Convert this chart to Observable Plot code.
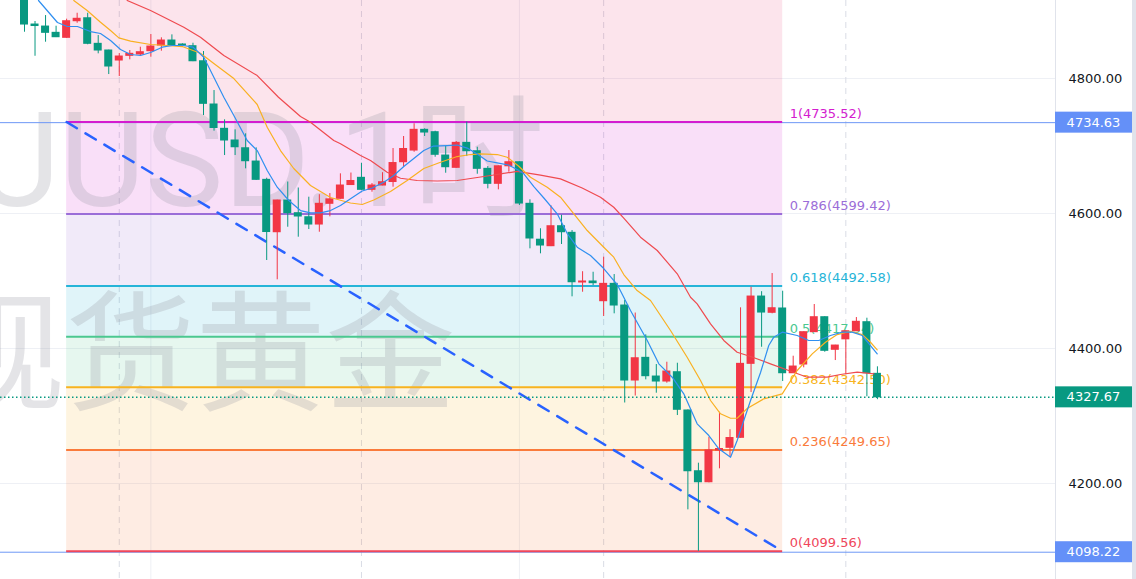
<!DOCTYPE html>
<html>
<head>
<meta charset="utf-8">
<script src="https://cdn.jsdelivr.net/npm/d3@7"></script>
<script src="https://cdn.jsdelivr.net/npm/@observablehq/plot@0.6"></script>
<style>
  html, body { margin: 0; padding: 0; background: #ffffff; }
  #chart { position: relative; width: 1136px; height: 579px; overflow: hidden; }
  #chart svg { display: block; }
</style>
</head>
<body>
<div id="chart"></div>
<script>
// XAUUSD hourly candles (bar index 0..81)
const open  = [4924.4, 4880.0, 4877.0, 4867.7, 4860.3, 4884.9, 4889.3, 4851.4, 4841.5, 4826.7,
               4833.6, 4835.6, 4840.5, 4848.9, 4856.3, 4850.4, 4847.9, 4825.6, 4761.5, 4725.5,
               4708.2, 4696.7, 4677.0, 4649.9, 4572.3, 4619.3, 4600.5, 4594.5, 4583.7, 4614.4,
               4621.8, 4642.2, 4652.9, 4635.1, 4641.5, 4646.7, 4676.0, 4693.3, 4724.0, 4720.5,
               4685.9, 4667.7, 4704.7, 4692.3, 4666.2, 4644.0, 4670.0, 4676.0, 4614.4, 4561.2,
               4551.6, 4581.2, 4571.4, 4497.8, 4499.3, 4470.1, 4495.8, 4463.7, 4352.6, 4386.2,
               4358.5, 4351.1, 4364.9, 4308.2, 4218.2, 4201.9, 4248.9, 4252.9, 4267.7, 4377.3,
               4477.0, 4452.9, 4459.3, 4363.4, 4376.3, 4424.2, 4446.4, 4398.1, 4413.6, 4425.6,
               4439.0, 4362.5];
const high  = [4930.4, 4884.5, 4893.3, 4877.5, 4887.9, 4896.7, 4896.7, 4863.7, 4842.0, 4837.0,
               4841.5, 4846.4, 4865.2, 4860.3, 4864.7, 4851.4, 4852.3, 4840.0, 4782.2, 4738.8,
               4724.0, 4718.1, 4697.3, 4652.3, 4619.8, 4646.7, 4637.8, 4624.2, 4627.9, 4629.6,
               4658.8, 4660.0, 4674.5, 4644.4, 4660.5, 4696.3, 4714.1, 4733.0, 4725.5, 4721.9,
               4699.3, 4706.7, 4735.52, 4698.2, 4669.6, 4670.5, 4693.3, 4676.5, 4620.3, 4577.4,
               4611.4, 4597.5, 4574.8, 4513.8, 4513.0, 4535.3, 4509.6, 4471.1, 4452.6, 4420.3,
               4376.3, 4379.7, 4378.2, 4309.0, 4230.1, 4268.6, 4305.6, 4279.7, 4460.3, 4490.8,
               4484.2, 4511.1, 4484.9, 4388.6, 4424.5, 4465.2, 4447.0, 4404.8, 4426.0, 4445.9,
               4444.9, 4372.9];
const low   = [4868.6, 4833.0, 4853.8, 4860.7, 4859.5, 4881.9, 4850.0, 4836.6, 4805.9, 4803.0,
               4827.7, 4832.6, 4831.6, 4840.5, 4848.0, 4846.4, 4825.0, 4745.2, 4722.0, 4685.9,
               4685.9, 4666.2, 4649.0, 4530.4, 4501.8, 4579.7, 4564.9, 4576.3, 4572.3, 4595.1,
               4621.0, 4641.5, 4634.5, 4631.6, 4641.0, 4639.0, 4668.6, 4690.8, 4714.1, 4683.4,
               4659.7, 4667.0, 4684.4, 4658.2, 4636.6, 4635.1, 4661.2, 4611.9, 4547.7, 4540.3,
               4551.0, 4554.1, 4476.6, 4483.4, 4493.3, 4447.4, 4451.4, 4319.3, 4329.6, 4353.6,
               4333.8, 4348.6, 4300.7, 4161.0, 4099.56, 4201.0, 4221.8, 4239.2, 4267.0, 4334.8,
               4401.9, 4451.4, 4351.1, 4363.0, 4371.4, 4424.0, 4394.5, 4382.2, 4361.5, 4425.0,
               4328.5, 4324.2];
const close = [4880.0, 4877.8, 4867.7, 4861.2, 4884.9, 4888.5, 4851.4, 4841.5, 4817.8, 4832.6,
               4836.6, 4839.0, 4847.4, 4856.3, 4848.9, 4848.9, 4825.6, 4762.5, 4726.7, 4708.2,
               4698.2, 4677.5, 4649.9, 4572.6, 4619.3, 4600.5, 4595.6, 4583.7, 4614.4, 4621.0,
               4641.5, 4648.2, 4635.1, 4641.5, 4646.4, 4674.8, 4695.6, 4724.0, 4720.0, 4687.0,
               4668.6, 4704.7, 4692.3, 4666.2, 4644.0, 4670.0, 4676.0, 4614.8, 4563.0, 4552.6,
               4581.2, 4572.3, 4498.2, 4499.3, 4496.8, 4495.8, 4463.7, 4352.6, 4385.6, 4359.0,
               4351.1, 4365.9, 4309.2, 4218.2, 4201.9, 4248.9, 4251.1, 4267.4, 4377.3, 4477.0,
               4453.3, 4459.7, 4363.4, 4373.3, 4424.2, 4446.4, 4396.6, 4404.4, 4425.6, 4439.6,
               4363.4, 4327.67];

// Moving averages as [bar index, price]
const maFast = [[1.33,4915.6],[3.13,4883.0],[4.06,4877.1],[5.03,4877.1],[6.27,4869.6],[7.22,4866.7],
  [8.17,4856.3],[9.12,4843.0],[10.07,4835.6],[11.02,4834.1],[11.97,4838.5],[13.08,4846.4],[14.03,4848.9],
  [15.07,4848.9],[16.02,4846.4],[17.03,4831.6],[17.98,4801.9],[18.93,4772.3],[19.88,4745.2],[21.15,4708.2],
  [22.1,4693.3],[23.05,4663.7],[24.0,4639.0],[25.1,4619.3],[26.21,4604.4],[27.16,4601.0],[28.11,4601.0],
  [29.06,4604.4],[30.01,4611.9],[30.96,4621.8],[32.07,4633.3],[33.02,4637.8],[34.12,4646.4],[35.07,4656.3],
  [36.02,4669.6],[36.97,4681.5],[37.92,4693.3],[38.84,4700.0],[40.14,4700.7],[41.09,4701.5],[42.04,4697.0],
  [42.99,4688.2],[43.94,4677.8],[44.89,4675.1],[45.96,4671.9],[46.79,4665.2],[47.42,4658.8],[48.37,4640.0],
  [49.32,4623.0],[50.59,4599.6],[51.54,4570.4],[52.49,4550.1],[53.75,4537.8],[55.01,4518.5],[56.29,4494.8],
  [57.55,4456.3],[59.14,4411.8],[60.24,4377.3],[61.51,4357.5],[62.61,4332.9],[63.88,4288.4],[64.99,4271.1],
  [65.94,4251.4],[67.05,4238.9],[67.68,4263.7],[68.31,4293.3],[68.95,4323.0],[69.9,4364.5],[70.68,4404.5],
  [71.16,4416.8],[71.96,4424.2],[73.38,4419.3],[74.48,4411.9],[75.43,4411.9],[76.54,4419.3],[77.65,4424.2],
  [78.6,4424.2],[79.55,4419.3],[80.34,4404.4],[80.98,4392.1]];
const maMid = [[4.68,4915.6],[5.95,4900.7],[7.22,4883.4],[8.17,4871.1],[8.96,4860.3],[10.07,4855.3],
  [11.97,4850.4],[13.55,4848.9],[14.98,4847.4],[16.71,4837.5],[17.98,4822.2],[19.88,4800.0],[22.1,4761.5],
  [23.05,4727.9],[24.31,4693.3],[25.57,4666.7],[27.16,4641.5],[29.06,4623.7],[30.96,4615.6],[32.07,4613.4],
  [33.17,4620.0],[34.76,4632.6],[36.34,4648.9],[37.92,4666.7],[39.51,4676.0],[41.09,4684.4],[42.36,4687.4],
  [43.3,4688.5],[44.89,4687.4],[45.84,4683.4],[46.91,4670.4],[48.05,4653.8],[49.64,4639.0],[50.9,4624.2],
  [52.17,4599.6],[53.44,4574.8],[55.01,4550.1],[55.96,4535.3],[56.91,4509.6],[58.18,4485.9],[59.45,4471.1],
  [61.35,4426.7],[62.93,4387.1],[64.2,4352.6],[65.15,4323.0],[66.1,4303.3],[67.05,4296.7],[67.68,4296.7],
  [68.63,4311.1],[70.21,4325.5],[71.96,4332.9],[73.38,4367.4],[74.81,4392.1],[76.07,4409.3],[77.18,4420.7],
  [78.44,4425.6],[79.55,4420.7],[80.34,4409.3],[80.98,4398.1]];
const maSlow = [[9.75,4915.6],[11.97,4900.7],[12.92,4893.3],[15.13,4876.0],[16.71,4861.2],[18.93,4834.1],
  [22.1,4804.4],[24.12,4772.3],[26.21,4743.7],[27.16,4735.3],[29.37,4708.2],[30.01,4703.3],[31.91,4685.9],
  [32.86,4678.5],[34.44,4661.2],[35.71,4652.3],[37.29,4648.9],[39.19,4648.2],[41.09,4648.9],[42.36,4651.9],
  [44.26,4656.3],[46.79,4662.5],[49.0,4657.0],[50.9,4651.4],[52.96,4637.8],[54.7,4624.2],[55.96,4609.3],
  [56.91,4593.3],[58.5,4564.9],[60.09,4545.2],[61.99,4510.7],[63.25,4476.0],[63.88,4466.2],[65.15,4436.6],
  [66.41,4411.9],[67.68,4394.5],[68.95,4388.2],[70.84,4377.3],[72.58,4367.4],[74.33,4357.5],[76.23,4357.5],
  [77.49,4361.5],[79.08,4364.9],[80.66,4362.5]];

// Fibonacci retracement drawn between bar 4 and bar 72
const fibRatios = ["1", "0.786", "0.618", "0.5", "0.382", "0.236", "0"];
const fibValues = [4735.52, 4599.42, 4492.58, 4417.54, 4342.50, 4249.65, 4099.56];
const fibColors = ["#d41ccf", "#9b6dd8", "#26b4d8", "#4bc890", "#f7b320", "#fa7b3b", "#f0465a"];
const fibExtValue = 5128.62;   // 1.618 extension (above the visible range)
const fibExtColor = "#e91e63";
const fibBars = [4, 72];

// Other annotations
const trendPoints = [[4, 4735.52], [72, 4099.56]];
const horizontalLines = [4734.63, 4098.22];
const lastPrice = 4327.67;
const priceTicks = [4200, 4400, 4600, 4800];
const timeTicks = [12, 47];
const sessionBreaks = [9, 32, 55, 78];

const UP = "#f23645", DOWN = "#089981";

const candles = close.map((c, i) => ({i, open: open[i], high: high[i], low: low[i], close: c, up: c >= open[i]}));
const levels = fibValues.map((v, k) => ({ratio: fibRatios[k], value: v, color: fibColors[k]}));
const bounds = [fibExtValue, ...fibValues];
const zoneColors = [fibExtColor, ...fibColors];
const zones = fibValues.map((v, k) => ({hi: bounds[k], lo: bounds[k + 1], color: zoneColors[k],
  alpha: k === 0 ? 0.12 : 0.14}));

const W = 1136, H = 579, axisW = 81;
const barStep = 10.53, firstBarX = 24;
const paneW = W - axisW;

const chart = Plot.plot({
  width: W,
  height: H,
  marginLeft: 0,
  marginRight: axisW,
  marginTop: 0,
  marginBottom: 0,
  x: {domain: [-firstBarX / barStep, (paneW - firstBarX) / barStep], axis: null},
  y: {domain: [4057.8, 4915.6], axis: null, label: null},
  color: {type: "identity"},
  style: {fontFamily: "DejaVu Sans, sans-serif", fontSize: "13px", background: "#ffffff", overflow: "hidden"},
  marks: [
    Plot.ruleY(priceTicks, {stroke: "#eef0f5", strokeWidth: 1}),
    Plot.ruleX(timeTicks, {stroke: "#eef0f5", strokeWidth: 1}),
    Plot.ruleX(sessionBreaks, {stroke: "#d9dce5", strokeWidth: 1, strokeDasharray: "6,5"}),
    // retracement zones
    Plot.rectY(zones, {x1: fibBars[0], x2: fibBars[1], y1: "lo", y2: "hi", fill: "color",
      fillOpacity: d => d.alpha, clip: true}),
    // watermark
    Plot.text(["XAUUSD.1时"], {frameAnchor: "top-left", lineAnchor: "middle", textAnchor: "end",
      dx: 544, dy: 163, fontSize: 132, fill: "#9598a1", fillOpacity: 0.26,
      fontFamily: "Roboto, Noto Sans CJK SC, sans-serif"}),
    Plot.text(["现货黄金"], {frameAnchor: "top-left", lineAnchor: "middle", textAnchor: "middle",
      dx: 195, dy: 358, fontSize: 130, fill: "#9598a1", fillOpacity: 0.26,
      fontFamily: "Noto Sans CJK SC, sans-serif"}),
    // horizontal price lines
    Plot.ruleY(horizontalLines, {stroke: "#6e98f6", strokeWidth: 1}),
    // retracement levels and labels
    Plot.ruleY(levels, {y: "value", x1: fibBars[0], x2: fibBars[1], stroke: "color", strokeWidth: 2}),
    Plot.text(levels, {x: fibBars[1], y: "value", text: d => `${d.ratio}(${d.value.toFixed(2)})`,
      fill: "color", textAnchor: "start", dx: 7, dy: -8, fontSize: 13}),
    // trend line
    Plot.line(trendPoints, {stroke: "#2962ff", strokeWidth: 2.5, strokeDasharray: "12,10"}),
    // candles
    Plot.ruleX(candles, {x: "i", y1: "low", y2: "high", stroke: d => d.up ? UP : DOWN, strokeWidth: 1, clip: true}),
    Plot.rectY(candles, {x1: d => d.i - 0.38, x2: d => d.i + 0.38, y1: "open", y2: "close",
      fill: d => d.up ? UP : DOWN, insetTop: -0.5, insetBottom: -0.5, clip: true}),
    // moving averages
    Plot.line(maSlow, {stroke: "#ef4a4f", strokeWidth: 1.2, clip: true}),
    Plot.line(maMid, {stroke: "#f9b021", strokeWidth: 1.2, clip: true}),
    Plot.line(maFast, {stroke: "#2f8ff0", strokeWidth: 1.2, clip: true}),
    // last price
    Plot.ruleY([lastPrice], {stroke: DOWN, strokeWidth: 1.5, strokeDasharray: "1.5,2.5"}),
    // price axis
    Plot.axisY(priceTicks, {anchor: "right", tickSize: 0, tickPadding: 13, label: null,
      tickFormat: d3.format(".2f"), color: "#131722", fontSize: 13})
  ]
});

document.getElementById("chart").appendChild(chart);

// price-scale furniture: separator, edge strip and value tags
const svg = d3.select(chart);
const y = chart.scale("y");
svg.append("line").attr("x1", paneW + 0.5).attr("x2", paneW + 0.5).attr("y1", 0).attr("y2", H)
  .attr("stroke", "#e0e3eb").attr("stroke-width", 1);
svg.append("rect").attr("x", W - 4).attr("y", 0).attr("width", 4).attr("height", H).attr("fill", "#e0e3eb");

const tags = [
  {value: horizontalLines[0], bg: "#6490f8"},
  {value: lastPrice, bg: DOWN},
  {value: horizontalLines[1], bg: "#6490f8"}
];
const tagG = svg.append("g");
tags.forEach(t => {
  const cy = y.apply(t.value);
  tagG.append("rect").attr("x", paneW).attr("y", cy - 10.5).attr("width", W - 4 - paneW).attr("height", 21)
    .attr("fill", t.bg);
  tagG.append("text").attr("x", paneW + 38.5).attr("y", cy).attr("dy", "0.35em")
    .attr("text-anchor", "middle").attr("fill", "#ffffff")
    .attr("font-family", "DejaVu Sans, sans-serif").attr("font-size", 13)
    .text(d3.format(".2f")(t.value));
});
</script>
</body>
</html>
